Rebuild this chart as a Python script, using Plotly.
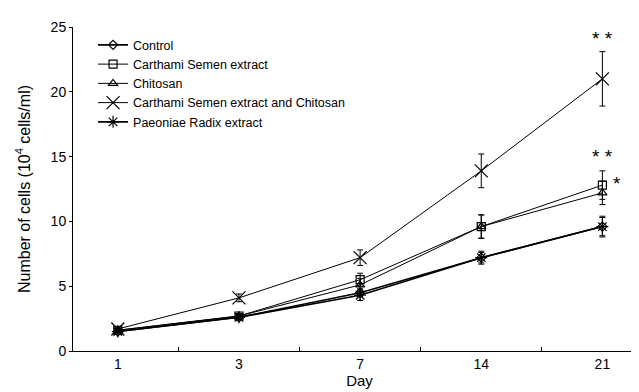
import plotly.graph_objects as go

days = ["1", "3", "7", "14", "21"]
control = [1.5, 2.6, 4.5, 7.2, 9.6]
control_err = [0.1, 0.2, 0.3, 0.4, 0.8]
carthami = [1.6, 2.7, 5.5, 9.6, 12.8]
carthami_err = [0.1, 0.2, 0.5, 0.9, 1.1]
chitosan = [1.6, 2.7, 5.1, 9.6, 12.2]
chitosan_err = [0.1, 0.2, 0.5, 0.9, 0.9]
combo = [1.7, 4.1, 7.2, 13.9, 21.0]
combo_err = [0.1, 0.3, 0.6, 1.3, 2.1]
paeoniae = [1.5, 2.6, 4.3, 7.2, 9.6]
paeoniae_err = [0.1, 0.2, 0.4, 0.5, 0.7]

series = [
    ("Control", control, control_err, "diamond-open", 7, 1.6),
    ("Carthami Semen extract", carthami, carthami_err, "square-open", 8, 1.0),
    ("Chitosan", chitosan, chitosan_err, "triangle-up-open", 8, 1.0),
    ("Carthami Semen extract and Chitosan", combo, combo_err, "x-thin-open", 13, 1.0),
    ("Paeoniae Radix extract", paeoniae, paeoniae_err, "asterisk-open", 10, 1.6),
]

fig = go.Figure()
for name, vals, errs, sym, size, lw in series:
    fig.add_trace(go.Scatter(
        x=days, y=vals, name=name, mode="lines+markers",
        line=dict(color="black", width=lw),
        marker=dict(symbol=sym, size=size, color="black",
                    line=dict(color="black", width=1.2)),
        error_y=dict(type="data", array=errs, visible=True,
                     color="black", thickness=1, width=3),
    ))

# significance marks (x = category index of day 21)
annots = [(4, 24.1, "* *", 0), (4, 15.0, "* *", 0), (4, 12.9, "*", 15)]
for x, y, t, xs in annots:
    fig.add_annotation(x=x, y=y, xref="x", yref="y", text=t, showarrow=False,
                       xshift=xs,
                       font=dict(size=19, color="black", family="Arial"))

fig.update_layout(
    width=639, height=392,
    margin=dict(l=65, r=1, t=19, b=49),
    paper_bgcolor="white", plot_bgcolor="white",
    font=dict(family="Arial, Liberation Sans, sans-serif", size=14, color="black"),
    legend=dict(x=0.035, y=0.99, xanchor="left", yanchor="top",
                font=dict(size=12.5), bgcolor="rgba(0,0,0,0)",
                itemwidth=30),
    xaxis=dict(type="category", range=[-0.37, 4.36], showline=True,
               linecolor="black", linewidth=1, ticks="inside", ticklen=4,
               tickson="boundaries", tickcolor="black", showgrid=False,
               zeroline=False, tickfont=dict(size=14),
               title=dict(text="Day", standoff=2, font=dict(size=15))),
    yaxis=dict(range=[0, 25], dtick=5, showline=True, linecolor="black",
               linewidth=1, ticks="outside", ticklen=3, tickcolor="black",
               showgrid=False, zeroline=False, tickfont=dict(size=14),
               title=dict(text="Number of cells (10<sup>4</sup> cells/ml)",
                          standoff=16, font=dict(size=16))),
)

fig.write_html("out.html")
